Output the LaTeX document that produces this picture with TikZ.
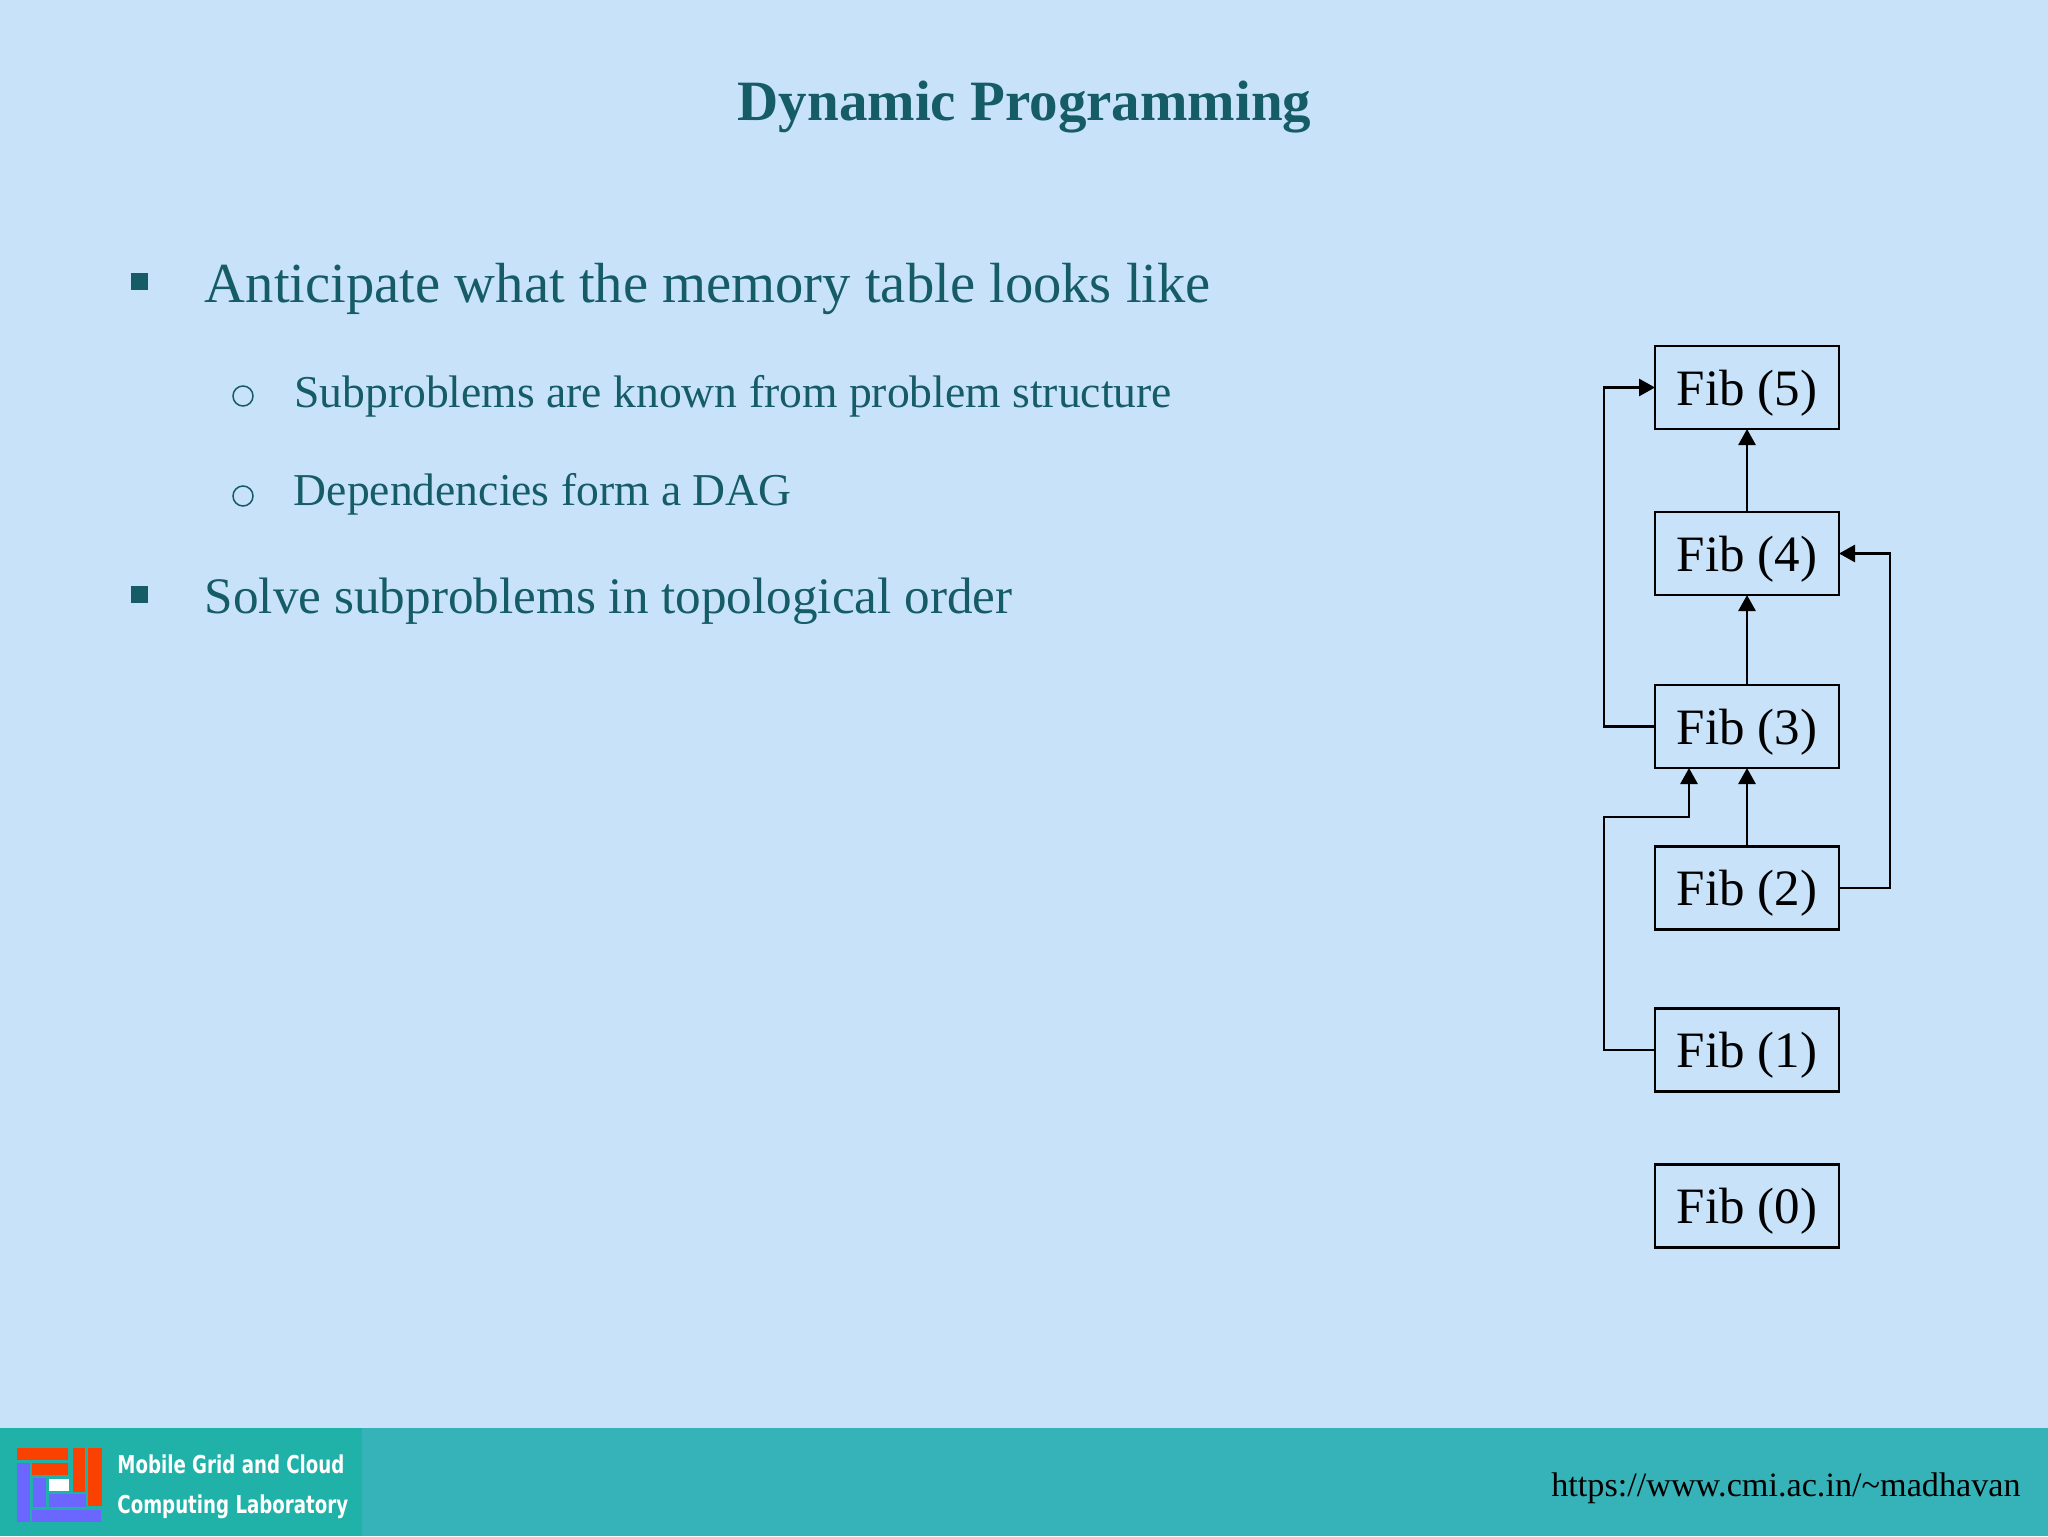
\documentclass[tikz,border=0pt]{standalone}
\usepackage{fontspec}
\usetikzlibrary{arrows.meta}
\setmainfont{Liberation Serif}
\newfontfamily\logofont{DejaVu Sans}
\definecolor{slidebg}{HTML}{C7E2F9}
\definecolor{slideink}{HTML}{155C66}
\definecolor{footbar}{HTML}{36B3B9}
\definecolor{footlogo}{HTML}{20B2A8}
\definecolor{logored}{HTML}{FA4100}
\definecolor{logoblue}{HTML}{6B66FF}
\newcommand\logolabel[1]{\scalebox{0.74}[1]{#1}}
\tikzset{
	fibbox/.style={draw=black,line width=1.1pt,outer sep=0pt,minimum width=92pt,minimum height=41.5pt,inner sep=0pt,text height=17.5pt,text depth=0pt,font=\fontsize{25.5}{30}\selectfont},
	link/.style={line width=1.4pt,-{Triangle[length=8pt,width=8.5pt]}},
	head/.style={anchor=base,inner sep=0pt,text=slideink,font=\fontsize{28.5}{34}\selectfont\bfseries},
	itemtext/.style={anchor=base west,inner sep=0pt,text=slideink,font=\fontsize{28.3}{35}\selectfont},
	itemsmall/.style={anchor=base west,inner sep=0pt,text=slideink,font=\fontsize{25.6}{31}\selectfont},
	subtext/.style={anchor=base west,inner sep=0pt,text=slideink,font=\fontsize{22.8}{28}\selectfont},
	squarebullet/.style={fill=slideink,minimum size=8.5pt,inner sep=0pt},
	roundbullet/.style={draw=slideink,line width=0.75pt,circle,minimum size=10pt,inner sep=0pt},
	logotext/.style={anchor=base west,inner sep=0pt,text=white,font=\logofont\bfseries\fontsize{12.3}{15}\selectfont}
}
\begin{document}
\begin{tikzpicture}[x=0.5pt,y=-0.5pt]
	\useasboundingbox (0,0) rectangle (2048,1536);
	\fill[slidebg] (0,0) rectangle (2048,1536);
	\fill[footbar] (0,1428) rectangle (2048,1536);
	\fill[footlogo] (0,1428) rectangle (362,1536);
	% logo
	\foreach \a/\b/\c/\d in {17/1448/68/1460,32/1463/68/1475,73/1448/85/1492,88/1448/102/1506}{
		\fill[logored] (\a,\b) rectangle (\c,\d);
	}
	\foreach \a/\b/\c/\d in {17/1463/30/1522,33/1478/46/1507,49/1494/86/1507,32/1510/101/1522}{
		\fill[logoblue] (\a,\b) rectangle (\c,\d);
	}
	\fill[white] (49,1479) rectangle (69,1491);
	\node[logotext] (logoa) at (117,1473) {\logolabel{Mobile Grid and Cloud}};
	\node[logotext] (logob) at (117,1513) {\logolabel{Computing Laboratory}};
	\node[anchor=base east,inner sep=0pt,font=\fontsize{17.1}{20}\selectfont] (url) at (2021,1496) {https://www.cmi.ac.in/\textasciitilde madhavan};
	% text
	\node[head] (title) at (1024.5,120) {Dynamic Programming};
	\node[squarebullet] (ba) at (139.5,281.5) {};
	\node[squarebullet] (bb) at (139.5,594.5) {};
	\node[roundbullet] (ca) at (243,396) {};
	\node[roundbullet] (cb) at (243,496) {};
	\node[itemtext] (ta) at (204.5,302) {Anticipate what the memory table looks like};
	\node[subtext] (tb) at (294,407) {Subproblems are known from problem structure};
	\node[subtext] (tc) at (293.5,505) {Dependencies form a DAG};
	\node[itemsmall] (td) at (204.5,613) {Solve subproblems in topological order};
	% boxes
	\foreach \n/\y in {5/387.5,4/553.5,3/726.5,2/888,1/1050,0/1206}{
		\node[fibbox] (f\n) at (1747,\y) {Fib (\n)};
	}
	\coordinate (turn) at (1689,817);
	\draw[link] (f4) -- (f5);
	\draw[link] (f3) -- (f4);
	\draw[link] (f2) -- (f3);
	\draw[link] (f3.west) -- ++(-51,0) |- (f5.west);
	\draw[link] (f2.east) -- ++(51,0) |- (f4.east);
	\draw[link] (f1.west) -- ++(-51,0) |- (turn) -- (turn |- f3.south);
\end{tikzpicture}
\end{document}
